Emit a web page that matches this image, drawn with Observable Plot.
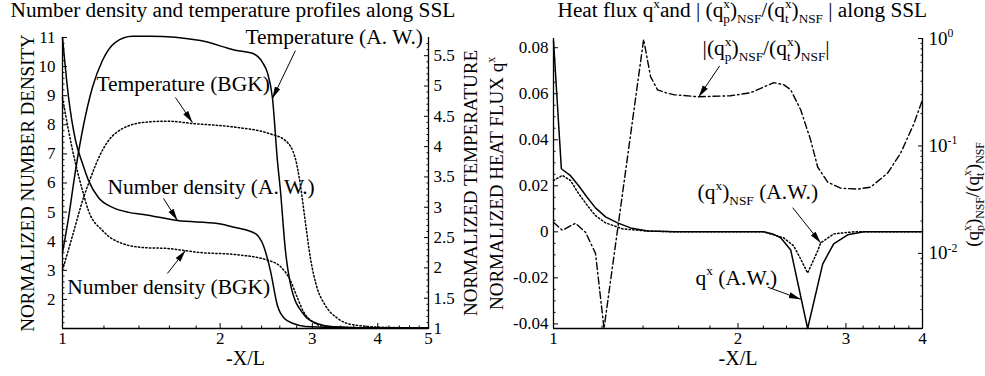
<!DOCTYPE html>
<html><head><meta charset="utf-8">
<script src="https://cdn.jsdelivr.net/npm/d3@7"></script>
<script src="https://cdn.jsdelivr.net/npm/@observablehq/plot@0.6"></script>
<style>
html,body{margin:0;padding:0;background:#fff;}
#chart{display:flex;width:985px;height:376px;overflow:hidden;background:#fff;}
</style></head><body><div id="chart"></div>
<script>
// ---------------- LEFT PANEL DATA (x = -X/L) ----------------
const densAW_x = [1.000, 1.027, 1.059, 1.092, 1.121, 1.171, 1.246, 1.337, 1.428, 1.658, 1.977, 2.139, 2.336, 2.419, 2.495, 2.573, 2.654, 2.760, 2.910, 3.394, 5.000];
const densAW   = [11.0, 8.94, 7.46, 6.67, 6.09, 5.50, 5.16, 4.99, 4.92, 4.71, 4.61, 4.47, 4.26, 3.85, 2.99, 1.79, 1.34, 1.17, 1.07, 1.03, 1.03];

const densBGK_x = [1.000, 1.027, 1.059, 1.092, 1.121, 1.192, 1.262, 1.428, 1.586, 1.834, 2.139, 2.473, 2.607, 2.724, 2.809, 2.885, 3.001, 3.177, 4.046, 5.000];
const densBGK   = [8.94, 7.80, 6.67, 5.74, 5.05, 4.37, 4.02, 3.78, 3.75, 3.61, 3.54, 3.34, 3.13, 2.65, 2.06, 1.58, 1.24, 1.07, 1.02, 1.02];

const tempAW_x = [1.000, 1.027, 1.059, 1.092, 1.141, 1.192, 1.262, 1.360, 1.472, 1.834, 2.139, 2.305, 2.409, 2.462, 2.517, 2.573, 2.607, 2.665, 2.724, 2.872, 3.068, 3.291, 4.046, 5.000];
const tempAW   = [2.25, 2.83, 3.61, 4.27, 4.98, 5.42, 5.72, 5.82, 5.82, 5.75, 5.59, 5.54, 5.39, 5.22, 4.81, 3.77, 3.28, 2.29, 1.74, 1.26, 1.08, 1.03, 1.01, 1.01];

const tempBGK_x = [1.000, 1.045, 1.097, 1.121, 1.192, 1.262, 1.428, 1.586, 1.778, 2.139, 2.473, 2.665, 2.785, 2.847, 2.910, 2.975, 3.054, 3.177, 3.349, 3.546, 4.100, 5.000];
const tempBGK   = [1.96, 2.53, 3.16, 3.39, 3.94, 4.22, 4.40, 4.42, 4.38, 4.32, 4.22, 4.10, 3.80, 3.36, 2.75, 2.16, 1.71, 1.38, 1.17, 1.07, 1.02, 1.01];

// ---------------- RIGHT PANEL DATA ----------------
const qAW_x = [1.000, 1.030, 1.066, 1.099, 1.136, 1.171, 1.216, 1.272, 1.336, 1.424, 1.582, 2.202, 2.279, 2.348, 2.438, 2.598, 2.749, 2.865, 3.020, 3.210, 4.000];
const qAW   = [0.083, 0.0274, 0.0244, 0.0200, 0.0148, 0.0104, 0.0065, 0.0039, 0.0017, 0.0004, 0.0, 0.0, -0.0009, -0.0026, -0.0079, -0.0420, -0.0140, -0.0052, -0.0013, 0.0, 0.0];

const qNSF_x = [1.000, 1.034, 1.066, 1.099, 1.136, 1.171, 1.216, 1.296, 1.413, 1.582, 2.202, 2.374, 2.465, 2.531, 2.598, 2.698, 2.729, 2.865, 3.090, 4.000];
const qNSF   = [0.0223, 0.0245, 0.0223, 0.0166, 0.0114, 0.0070, 0.0039, 0.0013, 0.0004, 0.0, 0.0, -0.0026, -0.0061, -0.0118, -0.0179, -0.0083, -0.0048, -0.0009, 0.0, 0.0];

const ratio_x = [1.000, 1.034, 1.086, 1.128, 1.171, 1.209, 1.403, 1.440, 1.478, 1.524, 1.570, 1.718, 1.945, 2.097, 2.287, 2.374, 2.438, 2.531, 2.627, 2.698, 2.801, 2.941, 3.136, 3.293, 3.510, 3.686, 3.871, 4.000];
const ratio   = [0.0195, 0.0164, 0.0191, 0.0157, 0.0100, 0.0020, 0.98, 0.442, 0.333, 0.313, 0.300, 0.287, 0.293, 0.313, 0.388, 0.372, 0.333, 0.217, 0.114, 0.0637, 0.0461, 0.0405, 0.0396, 0.0414, 0.0560, 0.0861, 0.160, 0.269];

// ---------------- TICKS ----------------
const xTicksL = [1, 2, 3, 4, 5];
const nTicks = [2, 3, 4, 5, 6, 7, 8, 9, 10, 11];
const tTicks = [1, 1.5, 2, 2.5, 3, 3.5, 4, 4.5, 5, 5.5];
const tTickLabels = ["1", "1.5", "2", "2.5", "3", "3.5", "4", "4.5", "5", "5.5"];
const xTicksR = [1, 2, 3, 4];
const qTicks = [-0.04, -0.02, 0, 0.02, 0.04, 0.06, 0.08];
const qTickLabels = ["-0.04", "-0.02", "0", "0.02", "0.04", "0.06", "0.08"];
const rTicks = [0.01, 0.1, 1];
const rTickLabels = ["10^{-2}", "10^{-1}", "10^{0}"];

// ---------------- TEXT ----------------
const titleL = "Number density and temperature profiles along SSL";
const titleR = "Heat flux q^{x}and | (q^{x}_{p})_{NSF}/(q^{x}_{t})_{NSF} | along SSL";
const annL = [
  {x: 2.235, y: 11.01, text: "Temperature (A. W.)"},
  {x: 1.161, y: 9.40, text: "Temperature (BGK)"},
  {x: 1.219, y: 5.86, text: "Number density (A. W.)"},
  {x: 1.021, y: 2.42, text: "Number density (BGK)"}
];
const arrowsL = [
  {x1: 2.785, y1: 10.55, x2: 2.517, y2: 8.90},
  {x1: 1.643, y1: 8.94, x2: 1.771, y2: 8.08},
  {x1: 1.559, y1: 5.47, x2: 1.658, y2: 4.71},
  {x1: 1.586, y1: 2.89, x2: 1.717, y2: 3.68}
];
const annR = [
  {x: 1.751, y: 0.0797, text: "|(q^{x}_{p})_{NSF}/(q^{x}_{t})_{NSF}|"},
  {x: 1.718, y: 0.0172, text: "(q^{x})_{NSF} (A.W.)"},
  {x: 1.705, y: -0.0199, text: "q^{x} (A.W.)"}
];
const arrowsR = [
  {x1: 1.867, y1: 0.0721, x2: 1.725, y2: 0.0586},
  {x1: 2.456, y1: 0.0105, x2: 2.729, y2: -0.0048},
  {x1: 2.236, y1: -0.0240, x2: 2.531, y2: -0.0293}
];

// ---------------- HELPERS ----------------
const SERIF = "'Liberation Serif','Times New Roman',Times,serif";
const svgNS = "http://www.w3.org/2000/svg";
const T_MIN = 1, T_MAX = 5.8, N_MIN = 1, N_MAX = 11;
const tToN = t => N_MIN + (t - T_MIN) * (N_MAX - N_MIN) / (T_MAX - T_MIN);
const Q_MIN = -0.042, Q_MAX = 0.084, L_MIN = Math.log10(0.002), L_MAX = 0;
const rToQ = r => Q_MIN + (Math.log10(r) - L_MIN) * (Q_MAX - Q_MIN) / (L_MAX - L_MIN);
const pts = (xs, ys, f = v => v) => xs.map((x, i) => ({x, y: f(ys[i])}));
const near = (arr, v) => arr.findIndex(a => Math.abs(a - v) < 1e-9);

const minorXL = d3.range(1.2, 5, 0.2).filter(v => Math.abs(v - Math.round(v)) > 1e-6);
const minorXR = d3.range(1.2, 4, 0.2).filter(v => Math.abs(v - Math.round(v)) > 1e-6);
const minorN = d3.range(1.2, 11, 0.2).filter(v => Math.abs(v - Math.round(v)) > 1e-6);
const minorT = d3.range(1.1, 5.8, 0.1).filter(v => Math.abs(v * 2 - Math.round(v * 2)) > 1e-6);
const minorQ = d3.range(-0.04, 0.084, 0.005).filter(v => Math.abs(v / 0.02 - Math.round(v / 0.02)) > 1e-6);
const minorR = [];
for (const k of [-3, -2, -1]) for (let m = 2; m <= 9; m++) { const v = m * Math.pow(10, k); if (v >= 0.002 && v < 1) minorR.push(v); }

function arrowHead(color) {
  const m = document.createElementNS(svgNS, "marker");
  m.setAttribute("viewBox", "-12 -4 13 8");
  m.setAttribute("markerWidth", 13);
  m.setAttribute("markerHeight", 8);
  m.setAttribute("markerUnits", "userSpaceOnUse");
  m.setAttribute("orient", "auto");
  m.setAttribute("refX", 0);
  m.setAttribute("refY", 0);
  const p = document.createElementNS(svgNS, "path");
  p.setAttribute("d", "M-12,-3L0,0L-12,3Z");
  p.setAttribute("fill", color || "black");
  p.setAttribute("stroke", "none");
  m.appendChild(p);
  return m;
}

const solid = {stroke: "black", strokeWidth: 1.5};
const dotted = {stroke: "black", strokeWidth: 1.5, strokeDasharray: "1.4,2.3"};
const dashdot = {stroke: "black", strokeWidth: 1.4, strokeDasharray: "7,3,1.6,3"};
const edge = {stroke: "black", strokeWidth: 1.3};
const TXT = {fill: "black", textAnchor: "middle", lineAnchor: "middle"};

// ---------------- LEFT PLOT ----------------
const left = Plot.plot({
  width: 492, height: 376,
  marginLeft: 62, marginRight: 64, marginTop: 37, marginBottom: 48,
  style: {fontFamily: SERIF, fontSize: "17px", color: "black", background: "white", overflow: "visible"},
  x: {type: "log", domain: [1, 5], axis: null, label: null},
  y: {domain: [N_MIN, N_MAX], axis: null, label: null},
  marks: [
    Plot.ruleY([N_MIN], edge),
    Plot.ruleX([1, 5], edge),
    Plot.axisX({ticks: xTicksL, tickSize: -5, tickPadding: 8, tickFormat: d => String(d), fontSize: 17, label: null}),
    Plot.axisX({ticks: minorXL, tickSize: -2.5, tickFormat: () => "", label: null}),
    Plot.axisY({ticks: nTicks, tickSize: -5, tickPadding: 12, tickFormat: d => String(d), fontSize: 17, label: null}),
    Plot.axisY({ticks: minorN, tickSize: -2.5, tickFormat: () => "", label: null}),
    Plot.axisY({anchor: "right", ticks: tTicks.map(tToN), tickSize: -5, tickPadding: 10,
      tickFormat: d => tTickLabels[near(tTicks.map(tToN), d)], fontSize: 17, label: null}),
    Plot.axisY({anchor: "right", ticks: minorT.map(tToN), tickSize: -2.5, tickFormat: () => "", label: null}),
    Plot.line(pts(densAW_x, densAW), {x: "x", y: "y", ...solid, curve: "monotone-x"}),
    Plot.line(pts(densBGK_x, densBGK), {x: "x", y: "y", ...dotted, curve: "monotone-x"}),
    Plot.line(pts(tempAW_x, tempAW, tToN), {x: "x", y: "y", ...solid, curve: "monotone-x"}),
    Plot.line(pts(tempBGK_x, tempBGK, tToN), {x: "x", y: "y", ...dotted, curve: "monotone-x"}),
    Plot.link(arrowsL, {x1: "x1", y1: "y1", x2: "x2", y2: "y2", stroke: "black", strokeWidth: 1, markerEnd: arrowHead}),
    Plot.text(annL, {x: "x", y: "y", text: "text", ...TXT, textAnchor: "start", fontSize: 21.5}),
    Plot.text([titleL], {text: d => d, frameAnchor: "top-left", ...TXT, textAnchor: "start", dx: -52, dy: -27, fontSize: 21.3}),
    Plot.text(["-X/L"], {text: d => d, frameAnchor: "bottom", ...TXT, dy: 30.5, fontSize: 20}),
    Plot.text(["NORMALIZED NUMBER DENSITY"], {text: d => d, frameAnchor: "left", ...TXT, rotate: -90, dx: -34.5, fontSize: 19}),
    Plot.text(["NORMALIZED TEMPERATURE"], {text: d => d, frameAnchor: "right", ...TXT, rotate: -90, dx: 42, fontSize: 19})
  ]
});

// ---------------- RIGHT PLOT ----------------
const right = Plot.plot({
  width: 493, height: 376,
  marginLeft: 61, marginRight: 63, marginTop: 38, marginBottom: 48,
  style: {fontFamily: SERIF, fontSize: "17px", color: "black", background: "white", overflow: "visible"},
  x: {type: "log", domain: [1, 4], axis: null, label: null},
  y: {domain: [Q_MIN, Q_MAX], axis: null, label: null},
  marks: [
    Plot.ruleY([Q_MIN], edge),
    Plot.ruleX([1, 4], edge),
    Plot.axisX({ticks: xTicksR, tickSize: -5, tickPadding: 8, tickFormat: d => String(d), fontSize: 17, label: null}),
    Plot.axisX({ticks: minorXR, tickSize: -2.5, tickFormat: () => "", label: null}),
    Plot.axisY({ticks: qTicks, tickSize: -5, tickPadding: 10, tickFormat: d => qTickLabels[near(qTicks, d)], fontSize: 17, label: null}),
    Plot.axisY({ticks: minorQ, tickSize: -2.5, tickFormat: () => "", label: null}),
    Plot.axisY({anchor: "right", ticks: rTicks.map(rToQ), tickSize: -5, tickPadding: 11,
      tickFormat: d => rTickLabels[near(rTicks.map(rToQ), d)], fontSize: 19, label: null}),
    Plot.axisY({anchor: "right", ticks: minorR.map(rToQ), tickSize: -2.5, tickFormat: () => "", label: null}),
    Plot.line(pts(qAW_x, qAW), {x: "x", y: "y", ...solid}),
    Plot.line(pts(qNSF_x, qNSF), {x: "x", y: "y", ...dotted}),
    Plot.line(pts(ratio_x, ratio, rToQ), {x: "x", y: "y", ...dashdot}),
    Plot.link(arrowsR, {x1: "x1", y1: "y1", x2: "x2", y2: "y2", stroke: "black", strokeWidth: 1, markerEnd: arrowHead}),
    Plot.text(annR, {x: "x", y: "y", text: "text", ...TXT, textAnchor: "start", fontSize: 21.5}),
    Plot.text([titleR], {text: d => d, frameAnchor: "top-left", ...TXT, textAnchor: "start", dx: 4, dy: -28, fontSize: 21.3}),
    Plot.text(["-X/L"], {text: d => d, frameAnchor: "bottom", ...TXT, dy: 30.5, fontSize: 20}),
    Plot.text(["NORMALIZED HEAT FLUX q^{x}"], {text: d => d, frameAnchor: "left", ...TXT, rotate: -90, dx: -57, fontSize: 19}),
    Plot.text(["(q^{x}_{p})_{NSF}/(q^{x}_{t})_{NSF}"], {text: d => d, frameAnchor: "right", ...TXT, rotate: -90, dx: 50, dy: 11, fontSize: 19})
  ]
});

const chart = document.getElementById("chart");
chart.appendChild(left);
chart.appendChild(right);

// ---------------- rich text: super/subscripts ----------------
function richify(root) {
  root.querySelectorAll("text").forEach(t => {
    const s = t.textContent;
    if (!/[\^_]\{/.test(s)) return;
    const tokens = [];
    const re = /([\^_])\{([^}]*)\}/g;
    let last = 0, m;
    while ((m = re.exec(s))) {
      if (m.index > last) tokens.push({type: "n", s: s.slice(last, m.index)});
      tokens.push({type: m[1] === "^" ? "sup" : "sub", s: m[2]});
      last = re.lastIndex;
    }
    if (last < s.length) tokens.push({type: "n", s: s.slice(last)});
    const fs = parseFloat(getComputedStyle(t).fontSize) || 17;
    while (t.firstChild) t.removeChild(t.firstChild);
    let shift = 0, prev = null, pendingDx = 0;
    for (const tok of tokens) {
      const ts = document.createElementNS(svgNS, "tspan");
      ts.textContent = tok.s;
      let target = 0;
      if (tok.type === "sup") { target = -0.42 * fs; ts.setAttribute("font-size", (0.62 * fs).toFixed(2)); }
      else if (tok.type === "sub") { target = 0.28 * fs; ts.setAttribute("font-size", (0.62 * fs).toFixed(2)); }
      ts.setAttribute("dy", (target - shift).toFixed(2));
      shift = target;
      t.appendChild(ts);
      tok.w = ts.getComputedTextLength();
      if (prev && prev.type !== "n" && tok.type !== "n" && prev.type !== tok.type && !prev.stacked) {
        ts.setAttribute("dx", (-prev.w).toFixed(2));
        tok.stacked = true;
        pendingDx = Math.max(0, prev.w - tok.w);
      } else if (pendingDx) {
        ts.setAttribute("dx", pendingDx.toFixed(2));
        pendingDx = 0;
      }
      prev = tok;
    }
  });
}
richify(chart);
</script>
</body></html>
